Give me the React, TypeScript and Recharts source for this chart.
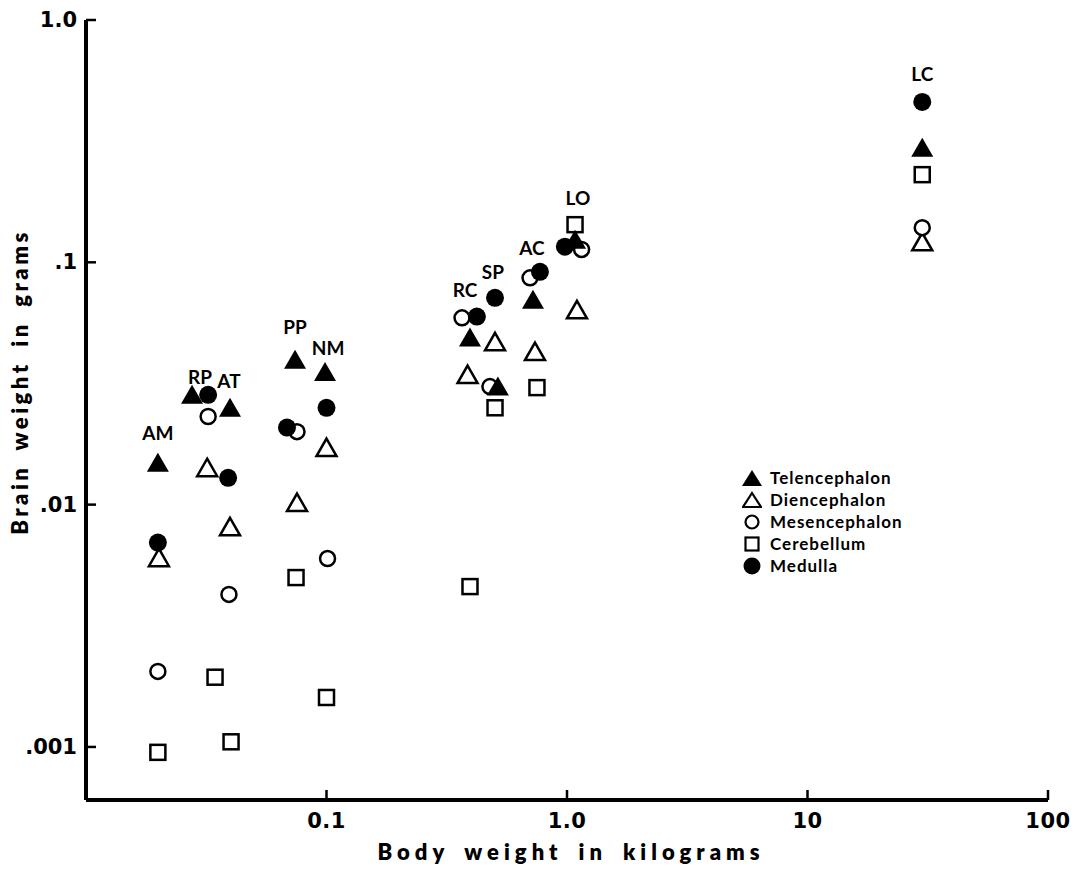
import React from 'react';
import { ScatterChart, Scatter, XAxis, YAxis, Legend } from 'recharts';

const FONT = "Lato, 'DejaVu Sans', sans-serif";
const TICK_FONT = "'DejaVu Sans', Lato, sans-serif";

// Species (animal) codes, in the same order as every value array below
const species = ['AM', 'RP', 'AT', 'PP', 'NM', 'RC', 'SP', 'AC', 'LO', 'LC'];

// Telencephalon (filled triangle)
const telenBody = [0.0199, 0.0276, 0.0397, 0.074, 0.0986, 0.395, 0.516, 0.722, 1.08, 30];
const telenBrain = [0.0149, 0.0284, 0.0251, 0.0396, 0.0353, 0.0489, 0.0307, 0.07, 0.124, 0.297];

// Diencephalon (open triangle)
const dienBody = [0.0201, 0.0319, 0.0397, 0.0754, 0.1, 0.386, 0.502, 0.736, 1.1, 30];
const dienBrain = [0.00604, 0.0142, 0.0081, 0.0102, 0.0172, 0.0344, 0.047, 0.0428, 0.0637, 0.1215];

// Mesencephalon (open circle)
const mesenBody = [0.0199, 0.0322, 0.0393, 0.0754, 0.101, 0.366, 0.478, 0.702, 1.15, 30];
const mesenBrain = [0.00205, 0.0231, 0.00426, 0.02, 0.00599, 0.059, 0.0307, 0.0863, 0.113, 0.139];

// Cerebellum (open square)
const cerebBody = [0.0199, 0.0344, 0.0401, 0.0747, 0.1, 0.395, 0.502, 0.75, 1.08, 30];
const cerebBrain = [0.00095, 0.00194, 0.00105, 0.005, 0.0016, 0.00459, 0.0251, 0.0304, 0.143, 0.23];

// Medulla (filled circle)
const medBody = [0.0199, 0.0322, 0.039, 0.0685, 0.1, 0.422, 0.502, 0.772, 0.98, 30];
const medBrain = [0.00697, 0.0284, 0.0129, 0.0208, 0.0251, 0.0597, 0.0714, 0.0914, 0.116, 0.459];

// Where each species code is written (data coordinates)
const labelBody = [0.0199, 0.0298, 0.0393, 0.074, 0.1015, 0.377, 0.492, 0.715, 1.11, 30];
const labelBrain = [0.0198, 0.0337, 0.0325, 0.0542, 0.0444, 0.077, 0.0914, 0.1148, 0.1845, 0.604];

// Axis ticks
const xTicks = [0.1, 1, 10, 100];
const xTickLabels = ['0.1', '1.0', '10', '100'];
const yTicks = [0.001, 0.01, 0.1, 1];
const yTickLabels = ['.001', '.01', '.1', '1.0'];

const seriesNames = ['Telencephalon', 'Diencephalon', 'Mesencephalon', 'Cerebellum', 'Medulla'];

const zip = (xs: number[], ys: number[]) =>
  xs.map((x, i) => ({ x, y: ys[i], name: species[i] }));

const telenData = zip(telenBody, telenBrain);
const dienData = zip(dienBody, dienBrain);
const mesenData = zip(mesenBody, mesenBrain);
const cerebData = zip(cerebBody, cerebBrain);
const medData = zip(medBody, medBrain);
const labelData = zip(labelBody, labelBrain);

const FilledTriangle = (p: any) => {
  const { cx, cy } = p;
  if (cx == null || cy == null) return <g />;
  return <path d={`M${cx},${cy - 10} L${cx + 11},${cy + 9} L${cx - 11},${cy + 9} Z`} fill="#000" />;
};
const OpenTriangle = (p: any) => {
  const { cx, cy } = p;
  if (cx == null || cy == null) return <g />;
  return (
    <path
      d={`M${cx},${cy - 9} L${cx + 10},${cy + 8.5} L${cx - 10},${cy + 8.5} Z`}
      fill="#fff"
      stroke="#000"
      strokeWidth={2.5}
      strokeLinejoin="miter"
    />
  );
};
const OpenCircle = (p: any) => {
  const { cx, cy } = p;
  if (cx == null || cy == null) return <g />;
  return <circle cx={cx} cy={cy} r={7.5} fill="#fff" stroke="#000" strokeWidth={2.5} />;
};
const FilledCircle = (p: any) => {
  const { cx, cy } = p;
  if (cx == null || cy == null) return <g />;
  return <circle cx={cx} cy={cy} r={9} fill="#000" />;
};
const OpenSquare = (p: any) => {
  const { cx, cy } = p;
  if (cx == null || cy == null) return <g />;
  return <rect x={cx - 7.5} y={cy - 7.5} width={15} height={15} fill="#fff" stroke="#000" strokeWidth={2.5} />;
};
const SpeciesLabel = (p: any) => {
  const { cx, cy, payload } = p;
  if (cx == null || cy == null) return <g />;
  return (
    <text
      x={cx}
      y={cy}
      textAnchor="middle"
      dominantBaseline="central"
      fontFamily={FONT}
      fontWeight={700}
      fontSize={19}
      fill="#000"
    >
      {payload.name}
    </text>
  );
};

const XTick = (p: any) => {
  const { x, y, payload, index } = p;
  return (
    <g>
      <line x1={x} y1={y} x2={x} y2={y - 10} stroke="#000" strokeWidth={2.5} />
      <text
        x={x}
        y={y + 28}
        textAnchor="middle"
        fontFamily={TICK_FONT}
        fontWeight={700}
        fontSize={21}
        letterSpacing={0.5}
        fill="#000"
      >
        {xTickLabels[xTicks.indexOf(payload.value)] ?? xTickLabels[index]}
      </text>
    </g>
  );
};
const YTick = (p: any) => {
  const { x, y, payload, index } = p;
  return (
    <g>
      <line x1={x} y1={y} x2={x + 10} y2={y} stroke="#000" strokeWidth={2.5} />
      <text
        x={x - 9}
        y={y}
        textAnchor="end"
        dominantBaseline="central"
        fontFamily={TICK_FONT}
        fontWeight={700}
        fontSize={21}
        fill="#000"
      >
        {yTickLabels[yTicks.indexOf(payload.value)] ?? yTickLabels[index]}
      </text>
    </g>
  );
};

const legendIcon = (i: number) => {
  const cx = 10;
  const cy = 11;
  switch (i) {
    case 0:
      return <path d={`M${cx},${cy - 8} L${cx + 10},${cy + 8} L${cx - 10},${cy + 8} Z`} fill="#000" />;
    case 1:
      return (
        <path
          d={`M${cx},${cy - 7} L${cx + 9},${cy + 7} L${cx - 9},${cy + 7} Z`}
          fill="#fff"
          stroke="#000"
          strokeWidth={2.2}
        />
      );
    case 2:
      return <circle cx={cx} cy={cy} r={6.5} fill="#fff" stroke="#000" strokeWidth={2.2} />;
    case 3:
      return <rect x={cx - 6.5} y={cy - 6.5} width={13} height={13} fill="#fff" stroke="#000" strokeWidth={2.2} />;
    default:
      return <circle cx={cx} cy={cy} r={8.5} fill="#000" />;
  }
};

const renderLegend = () => (
  <div style={{ fontFamily: FONT, fontWeight: 700, fontSize: 17, letterSpacing: 1, color: '#000' }}>
    {seriesNames.map((name, i) => (
      <div key={name} style={{ display: 'flex', alignItems: 'center', height: 22, whiteSpace: 'nowrap' }}>
        <svg width={20} height={22} style={{ display: 'block' }}>
          {legendIcon(i)}
        </svg>
        <span style={{ marginLeft: 8, lineHeight: '22px' }}>{name}</span>
      </div>
    ))}
  </div>
);

const W = 1090;
const H = 877;

export default function App() {
  return (
    <div style={{ width: W, height: H, position: 'relative', background: '#fff', margin: '-8px 0 0 -8px' }}>
      <ScatterChart width={W} height={H} margin={{ top: 20, right: 42, bottom: 37, left: 26 }}>
        <XAxis
          type="number"
          dataKey="x"
          scale="log"
          domain={[0.01, 100]}
          allowDataOverflow
          ticks={xTicks}
          interval={0}
          height={40}
          tickSize={0}
          tickMargin={0}
          tickLine={false}
          axisLine={{ stroke: '#000', strokeWidth: 4 }}
          tick={<XTick />}
        />
        <YAxis
          type="number"
          dataKey="y"
          scale="log"
          domain={[0.000604, 1]}
          allowDataOverflow
          ticks={yTicks}
          interval={0}
          width={60}
          tickSize={0}
          tickMargin={0}
          tickLine={false}
          axisLine={{ stroke: '#000', strokeWidth: 4 }}
          tick={<YTick />}
        />
        <Legend
          layout="horizontal"
          verticalAlign="middle"
          align="center"
          content={renderLegend}
          wrapperStyle={{ left: 742, top: 467, width: 200, height: 110 }}
        />
        <Scatter name="Diencephalon" data={dienData} shape={OpenTriangle} isAnimationActive={false} />
        <Scatter name="Mesencephalon" data={mesenData} shape={OpenCircle} isAnimationActive={false} />
        <Scatter name="Cerebellum" data={cerebData} shape={OpenSquare} isAnimationActive={false} />
        <Scatter name="Medulla" data={medData} shape={FilledCircle} isAnimationActive={false} />
        <Scatter name="Telencephalon" data={telenData} shape={FilledTriangle} isAnimationActive={false} />
        <Scatter name="labels" data={labelData} shape={SpeciesLabel} isAnimationActive={false} legendType="none" />
      </ScatterChart>
      <svg
        width={W}
        height={H}
        style={{ position: 'absolute', left: 0, top: 0, pointerEvents: 'none' }}
      >
        <text
          x={571}
          y={860}
          textAnchor="middle"
          fontFamily={FONT}
          fontWeight={800}
          fontSize={22}
          letterSpacing={5}
          wordSpacing={6}
          fill="#000"
        >
          Body weight in kilograms
        </text>
        <text
          x={28}
          y={382}
          transform="rotate(-90, 28, 382)"
          textAnchor="middle"
          fontFamily={FONT}
          fontWeight={800}
          fontSize={22}
          letterSpacing={3.5}
          wordSpacing={6}
          fill="#000"
        >
          Brain weight in grams
        </text>
      </svg>
    </div>
  );
}
